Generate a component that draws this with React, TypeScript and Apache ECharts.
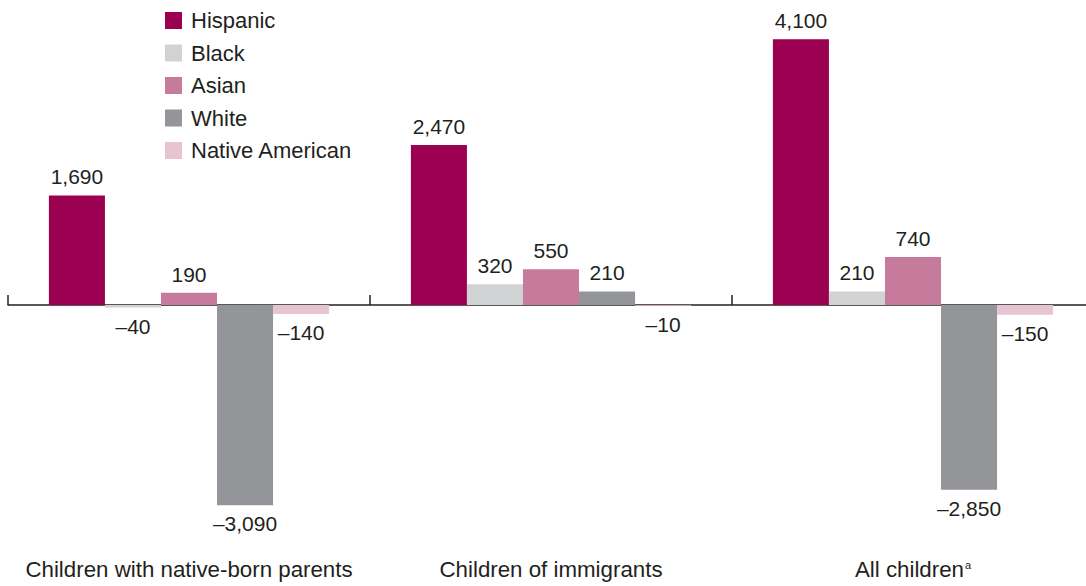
import React, { useEffect, useRef } from "react";
import * as echarts from "echarts";

const categories = ["Children with native-born parents", "Children of immigrants", "All children"];
const seriesNames = ["Hispanic", "Black", "Asian", "White", "Native American"];
const hispanic = [1690, 2470, 4100];
const black = [-40, 320, 210];
const asian = [190, 550, 740];
const white = [-3090, 210, -2850];
const nativeAmerican = [-140, -10, -150];
const colors = ["#9c0050", "#d1d2d4", "#c77b9c", "#939598", "#e8c3d2"];

const fmt = (v: number) => {
  const s = Math.abs(v).toLocaleString("en-US");
  return v < 0 ? "\u2013" + s : s;
};

export default function App() {
  const ref = useRef<HTMLDivElement>(null);
  useEffect(() => {
    if (!ref.current) return;
    const chart = echarts.init(ref.current, null, { renderer: "svg" });
    const values = [hispanic, black, asian, white, nativeAmerican];
    const font = "'Liberation Sans', Arial, sans-serif";
    chart.setOption({
      animation: false,
      textStyle: { fontFamily: font },
      legend: {
        orient: "vertical",
        left: 165,
        top: 9.5,
        padding: 0,
        itemWidth: 17,
        itemHeight: 17,
        itemGap: 10.5,
        icon: "rect",
        textStyle: { fontSize: 22, color: "#231f20", fontFamily: font, padding: [0, 0, 0, 4] },
        data: seriesNames,
      },
      grid: { left: 8, right: 0, top: 13.4, height: 518.4, containLabel: false },
      xAxis: [
        {
          type: "category",
          data: categories,
          axisLine: { onZero: true, lineStyle: { color: "#231f20", width: 1.5 } },
          axisTick: { show: true, inside: true, length: 10, lineStyle: { color: "#231f20", width: 1.5 } },
          axisLabel: { show: false },
        },
        {
          type: "category",
          data: categories,
          position: "bottom",
          axisLine: { show: false, onZero: false },
          axisTick: { show: false },
          axisLabel: {
            show: true,
            interval: 0,
            margin: 27,
            fontSize: 22.3,
            color: "#231f20",
            fontFamily: font,
            formatter: (v: string) => (v === "All children" ? v + "{sup|a}" : v),
            rich: { sup: { fontSize: 11, padding: [0, 0, 9, 1], color: "#231f20" } },
          },
        },
      ],
      yAxis: {
        type: "value",
        min: -3500,
        max: 4500,
        show: false,
        splitLine: { show: false },
      },
      series: seriesNames.map((name, i) => ({
        name,
        type: "bar",
        xAxisIndex: 0,
        barGap: "0%",
        barCategoryGap: "22.6%",
        itemStyle: { color: colors[i] },
        data: values[i].map((v) => ({
          value: v,
          label: {
            show: true,
            position: v < 0 ? "bottom" : "top",
            distance: 8,
            fontSize: 21,
            color: "#231f20",
            fontFamily: font,
            formatter: () => fmt(v),
          },
        })),
      })),
    });
    return () => chart.dispose();
  }, []);
  return (
    <div style={{ position: "absolute", left: 0, top: 0, width: 1086, height: 586, overflow: "hidden", background: "#fff" }}>
      <div ref={ref} style={{ width: 1094, height: 586 }} />
    </div>
  );
}
